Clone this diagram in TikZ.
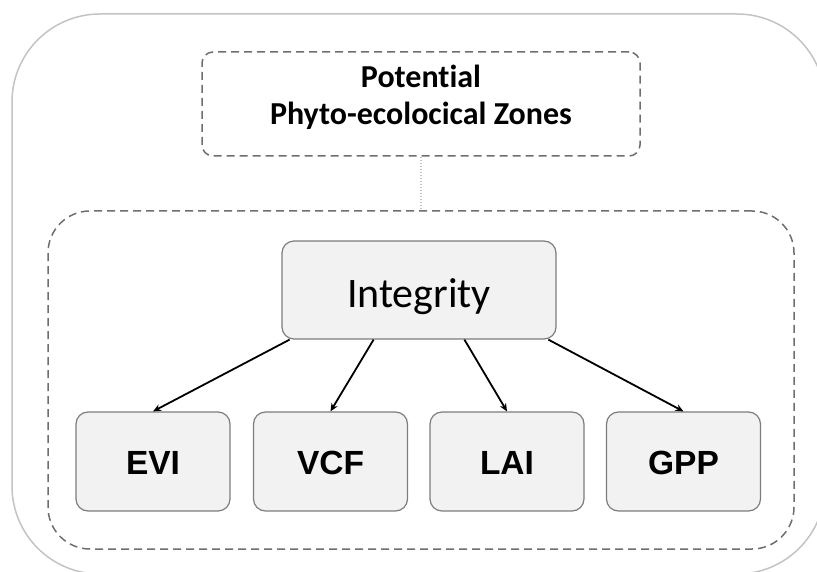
\documentclass[tikz,border=0pt]{standalone}
\usepackage{fontspec}
\usepackage{tikz}
\usetikzlibrary{positioning,calc,arrows.meta}
\newfontfamily\calfont[Ligatures=NoCommon]{Carlito}
\newfontfamily\arialfont{Liberation Sans}
\definecolor{BoxFill}{RGB}{242,242,242}
\definecolor{BoxLine}{RGB}{125,125,125}
\definecolor{DashGray}{RGB}{110,110,110}
\definecolor{FrameGray}{RGB}{195,195,195}
\definecolor{DotGray}{RGB}{195,195,195}
\tikzset{
  framebox/.style={draw=FrameGray,line width=1.5pt,rounded corners=88pt},
  zonebox/.style={draw=DashGray,line width=1.5pt,dash pattern=on 8pt off 5pt,
    rounded corners=11pt,minimum width=438pt,minimum height=104pt,inner sep=0pt},
  panelbox/.style={draw=DashGray,line width=1.5pt,dash pattern=on 8pt off 5pt,
    rounded corners=42pt,minimum width=746pt,minimum height=338pt,inner sep=0pt},
  hubbox/.style={draw=BoxLine,fill=BoxFill,line width=1.2pt,rounded corners=12pt,
    minimum width=274pt,minimum height=98pt,inner sep=0pt,
    font=\calfont\fontsize{42}{50}\selectfont,text height=34pt,text depth=0pt},
  leafbox/.style={draw=BoxLine,fill=BoxFill,line width=1.2pt,rounded corners=12pt,
    minimum width=154pt,minimum height=99pt,inner sep=0pt,
    font=\arialfont\bfseries\fontsize{33.5}{40}\selectfont,text height=25pt,text depth=0pt},
  linkarrow/.style={draw=black,line width=1.8pt,-{Stealth[length=8pt,width=7pt]}},
  dotlink/.style={draw=DotGray,line width=1.2pt,dash pattern=on 1.5pt off 1.5pt},
}

\begin{document}
\begin{tikzpicture}[x=1pt,y=-1pt]
  \useasboundingbox (0,0) rectangle (817,572);

  % outer frame, runs past the right and lower edge
  \draw[framebox] (12,14) rectangle (825,574);

  \node[zonebox] (zone) at (421,104) {};
  \node[align=center,font=\calfont\bfseries\fontsize{32}{37}\selectfont] (zonetxt) at (421,97)
    {Potential\\Phyto-ecolocical Zones};

  \node[panelbox] (panel) at (421,380) {};
  \draw[dotlink] (zone.south) -- (panel.north);

  \node[hubbox] (integ) at (419,290) {Integrity};

  \node[leafbox] (evi) at (153,461.5) {EVI};
  \node[leafbox] (vcf) at (330.5,461.5) {VCF};
  \node[leafbox] (lai) at (507,461.5) {LAI};
  \node[leafbox] (gpp) at (683.5,461.5) {GPP};

  \foreach \leaf/\f in {evi/0.03,vcf/0.335,lai/0.665,gpp/0.97}
    \draw[linkarrow] ($(integ.south west)!\f!(integ.south east)$) -- (\leaf.north);
\end{tikzpicture}
\end{document}
